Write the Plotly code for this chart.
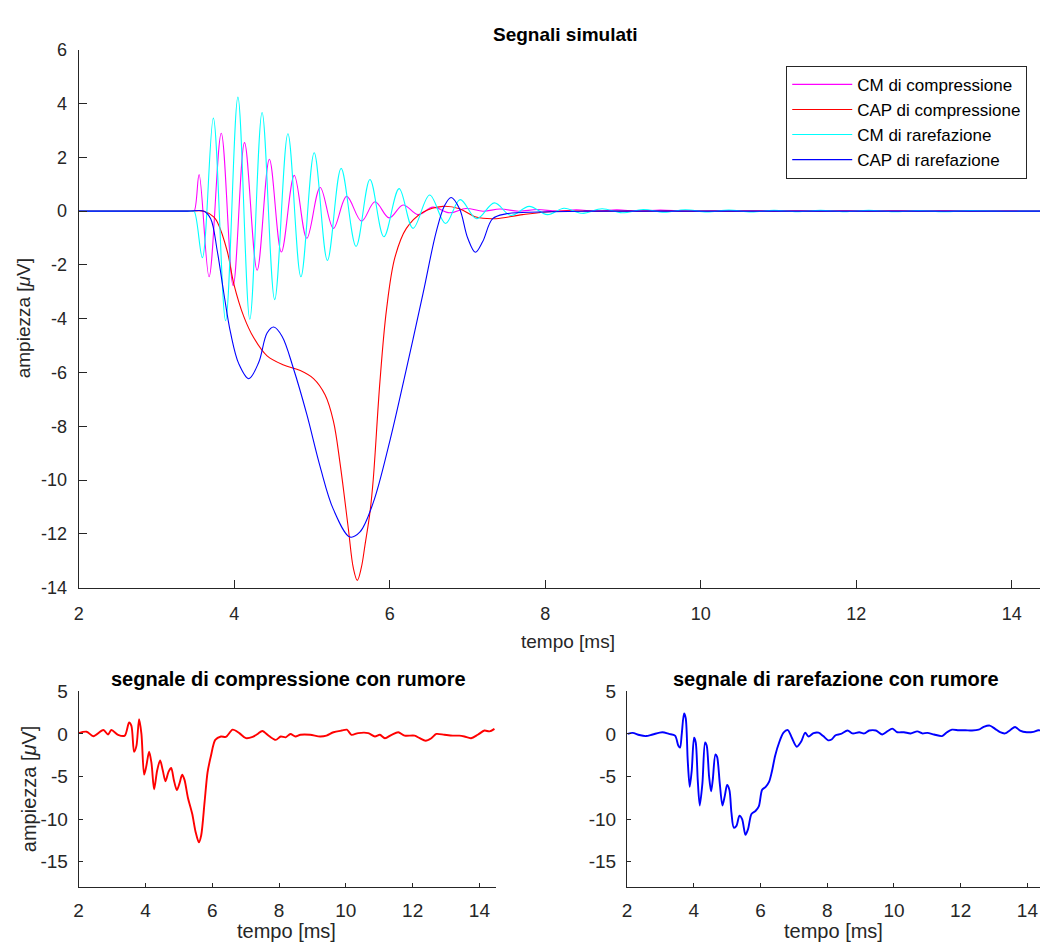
import plotly.graph_objects as go

# ---------------- data ----------------
# Main panel: simulated signals
cm_comp_t = [2.0, 2.5, 3.0, 3.3, 3.45, 3.485, 3.549, 3.677, 3.834, 3.987, 4.133, 4.295, 4.453, 4.607,
             4.773, 4.934, 5.106, 5.276, 5.446, 5.638, 5.810, 5.993, 6.172, 6.364, 6.556, 6.770,
             6.98, 7.20, 7.42, 7.66, 7.90, 8.15, 8.40, 8.66, 8.92, 9.20, 9.48, 9.80, 10.2, 11.0,
             12.0, 13.0, 14.0, 14.5]
cm_comp_v = [0.0, 0.0, 0.0, 0.0, 0.0, 0.0, 1.36, -2.44, 2.90, -2.77, 2.55, -2.20, 1.93, -1.52,
             1.33, -1.01, 0.88, -0.64, 0.55, -0.37, 0.35, -0.25, 0.23, -0.13, 0.15, -0.06,
             0.10, 0.0, 0.08, 0.0, 0.06, 0.0, 0.05, 0.0, 0.05, 0.0, 0.04, 0.0, 0.0, 0.0,
             0.0, 0.0, 0.0, 0.0]

cap_comp_t = [2.0, 2.5, 3.0, 3.4, 3.612, 3.74, 3.783, 3.911, 3.996, 4.124, 4.252, 4.423, 4.636,
              4.850, 5.020, 5.170, 5.276, 5.362, 5.468, 5.532, 5.583, 5.634, 5.682, 5.746, 5.788,
              5.874, 5.958, 6.066, 6.214, 6.428, 6.684, 6.898, 7.110, 7.366, 7.708, 8.130, 8.6,
              9.2, 10.0, 11.0, 12.0, 13.0, 14.0, 14.5]
cap_comp_v = [0.0, 0.0, 0.0, 0.0, 0.0, -0.22, -0.40, -1.49, -2.71, -3.92, -4.71, -5.38, -5.72,
              -5.93, -6.23, -6.84, -7.81, -9.39, -11.81, -13.27, -13.73, -13.27, -12.42, -11.2, -9.99,
              -6.35, -3.68, -1.73, -0.64, -0.04, 0.18, 0.09, -0.22, -0.28, -0.13, 0.0, 0.0,
              0.0, 0.0, 0.0, 0.0, 0.0, 0.0, 0.0]

cm_rare_t = [2.0, 2.5, 3.0, 3.3, 3.45, 3.485, 3.591, 3.732, 3.890, 4.048, 4.201, 4.359, 4.521,
             4.691, 4.858, 5.029, 5.199, 5.375, 5.567, 5.746, 5.925, 6.121, 6.300, 6.514, 6.718,
             6.905, 7.119, 7.346, 7.558, 7.793, 8.028, 8.241, 8.48, 8.73, 8.99, 9.26, 9.53, 9.80,
             10.08, 10.36, 10.65, 10.94, 11.24, 11.54, 11.85, 12.16, 12.48, 12.80, 13.13, 13.46,
             13.80, 14.1, 14.5]
cm_rare_v = [0.0, 0.0, 0.0, 0.0, 0.0, 0.0, -1.73, 3.46, -4.07, 4.24, -4.02, 3.67, -3.29,
             2.88, -2.44, 2.17, -1.83, 1.59, -1.31, 1.18, -0.95, 0.84, -0.64, 0.60, -0.46,
             0.43, -0.28, 0.31, -0.16, 0.18, -0.13, 0.11, -0.08, 0.09, -0.06, 0.06, -0.04, 0.05,
             -0.03, 0.04, -0.03, 0.03, -0.02, 0.03, -0.02, 0.03, -0.02, 0.02, -0.02, 0.02,
             0.0, 0.0, 0.0]

cap_rare_t = [2.0, 2.5, 3.0, 3.4, 3.612, 3.698, 3.783, 3.868, 3.954, 4.060, 4.188, 4.316, 4.423,
              4.508, 4.615, 4.764, 4.934, 5.106, 5.276, 5.490, 5.618, 5.788, 6.002, 6.214, 6.428,
              6.598, 6.706, 6.790, 6.898, 7.004, 7.102, 7.196, 7.324, 7.494, 7.912, 8.5, 9.2,
              10.0, 11.0, 12.0, 13.0, 14.0, 14.5]
cap_rare_v = [0.0, 0.0, 0.0, 0.0, 0.0, -0.28, -1.49, -3.07, -4.53, -5.68, -6.23, -5.62, -4.53,
              -4.31, -4.65, -5.87, -7.56, -9.51, -11.09, -12.12, -11.93, -10.84, -8.54, -5.87, -3.07,
              -0.77, 0.21, 0.51, 0.09, -1.01, -1.53, -1.13, -0.28, -0.10, -0.03, 0.0, 0.0,
              0.0, 0.0, 0.0, 0.0, 0.0, 0.0]

# Bottom-left: compression signal with noise
noisy_comp_t = [2.00, 2.24, 2.44, 2.74, 2.88, 2.98, 3.18, 3.38, 3.51, 3.58, 3.66, 3.73, 3.81,
                3.88, 3.96, 4.02, 4.11, 4.18, 4.26, 4.35, 4.44, 4.52, 4.60, 4.69, 4.77, 4.85,
                4.94, 5.02, 5.10, 5.17, 5.27, 5.40, 5.50, 5.60, 5.67, 5.77, 5.86, 5.96, 6.09,
                6.26, 6.41, 6.61, 6.81, 7.01, 7.21, 7.36, 7.50, 7.70, 7.90, 8.05, 8.20, 8.34,
                8.49, 8.64, 8.93, 9.23, 9.42, 9.63, 9.88, 10.03, 10.17, 10.37, 10.67, 10.87,
                11.02, 11.17, 11.37, 11.57, 11.76, 12.06, 12.21, 12.39, 12.56, 12.71, 12.95,
                13.20, 13.40, 13.55, 13.75, 13.95, 14.15, 14.30, 14.45]
noisy_comp_v = [0.1, 0.26, -0.27, 0.46, -0.07, 0.46, -0.1, -0.2, 1.34, 0.95, -2.1, -1.4, 1.72,
                0.0, -4.78, -3.9, -2.1, -3.4, -6.5, -4.3, -3.1, -4.3, -5.55, -4.45, -4.0, -5.4,
                -6.6, -5.8, -4.8, -5.4, -7.46, -9.38, -11.48, -12.74, -11.9, -8.04, -4.5, -2.6,
                -0.7, -0.3, -0.35, 0.5, 0.1, -0.5, -0.35, 0.0, 0.35, -0.25, -0.7, -0.3, -0.4,
                0.0, -0.3, -0.1, -0.1, -0.3, -0.2, 0.2, 0.4, 0.5, -0.1, 0.1, 0.1, -0.3,
                -0.1, -0.5, -0.1, 0.2, -0.2, -0.2, -0.5, -0.8, -0.5, 0.0, -0.1,
                -0.2, -0.2, -0.3, -0.5, -0.1, 0.4, 0.3, 0.6]

# Bottom-right: rarefaction signal with noise
noisy_rare_t = [2.02, 2.17, 2.37, 2.57, 2.77, 3.06, 3.26, 3.44, 3.54, 3.59, 3.64, 3.71, 3.76,
                3.82, 3.88, 3.94, 4.01, 4.06, 4.12, 4.18, 4.26, 4.34, 4.39, 4.46, 4.52, 4.57,
                4.65, 4.70, 4.78, 4.86, 4.93, 5.00, 5.07, 5.13, 5.20, 5.28, 5.37, 5.45, 5.55,
                5.63, 5.73, 5.85, 5.95, 6.05, 6.15, 6.26, 6.34, 6.44, 6.56, 6.69, 6.82, 6.94,
                7.09, 7.22, 7.34, 7.44, 7.59, 7.74, 7.88, 8.03, 8.13, 8.25, 8.41, 8.61, 8.76,
                8.96, 9.11, 9.26, 9.46, 9.65, 9.80, 9.95, 10.10, 10.30, 10.50, 10.70, 10.85,
                11.00, 11.20, 11.44, 11.59, 11.74, 11.94, 12.14, 12.34, 12.54, 12.69, 12.87,
                13.03, 13.18, 13.33, 13.48, 13.63, 13.78, 13.98, 14.18, 14.33, 14.5]
noisy_rare_v = [0.0, 0.13, -0.13, -0.25, -0.06, 0.2, 0.0, -0.2, -1.4, -1.6, -0.05, 2.4, 1.85,
                -3.1, -6.2, -4.3, -0.45, -1.0, -5.4, -8.4, -5.8, -1.0, -1.4, -5.0, -6.75, -5.4,
                -2.4, -2.7, -5.8, -8.4, -7.3, -6.0, -6.6, -9.25, -11.0, -10.8, -9.6, -10.0, -11.85,
                -11.15, -9.4, -9.05, -8.5, -6.55, -6.25, -5.6, -4.45, -2.55, -1.0, 0.15, 0.45, -0.45,
                -1.5, -0.9, 0.15, -0.3, 0.1, 0.15, -0.25, -0.75, -0.65, -0.15, 0.0, 0.4, 0.06,
                0.2, 0.06, 0.4, 0.4, -0.06, 0.3, 0.63, 0.2, 0.2, 0.06, 0.3, 0.06,
                0.13, -0.06, -0.25, 0.2, 0.5, 0.44, 0.44, 0.4, 0.5, 0.82, 0.98,
                0.6, 0.2, 0.06, 0.44, 0.82, 0.4, 0.2, 0.25, 0.44, 0.3]

legend_names = ["CM di compressione", "CAP di compressione", "CM di rarefazione", "CAP di rarefazione"]
main_xticks = [2, 4, 6, 8, 10, 12, 14]
main_yticks = [-14, -12, -10, -8, -6, -4, -2, 0, 2, 4, 6]
small_yticks = [-15, -10, -5, 0, 5]

# ---------------- figure ----------------
W, H = 1040, 952
FONT = "Liberation Sans, Arial, Helvetica, sans-serif"
AX = "#262626"

fig = go.Figure()
main_series = [(cm_comp_t, cm_comp_v, "#FF00FF"), (cap_comp_t, cap_comp_v, "#FF0000"),
               (cm_rare_t, cm_rare_v, "#00FFFF"), (cap_rare_t, cap_rare_v, "#0000FF")]
for (t, v, c), name in zip(main_series, legend_names):
    fig.add_trace(go.Scatter(x=t, y=v, mode="lines", name=name,
                             line=dict(color=c, width=1.1, shape="spline", smoothing=1.0),
                             xaxis="x", yaxis="y"))

fig.add_trace(go.Scatter(x=noisy_comp_t, y=noisy_comp_v, mode="lines", showlegend=False,
                         line=dict(color="#FF0000", width=1.9, shape="spline", smoothing=0.8),
                         xaxis="x2", yaxis="y2"))
fig.add_trace(go.Scatter(x=noisy_rare_t, y=noisy_rare_v, mode="lines", showlegend=False,
                         line=dict(color="#0000FF", width=1.9, shape="spline", smoothing=0.8),
                         xaxis="x3", yaxis="y3"))


def xax(domain, rng, anchor, ticklen, size, standoff):
    return dict(domain=domain, range=rng, anchor=anchor, showline=True, linecolor=AX, linewidth=1,
                ticks="inside", ticklen=ticklen, tickcolor=AX, tickwidth=1,
                tickvals=main_xticks, ticktext=[str(v) for v in main_xticks],
                tickfont=dict(size=size, color=AX, family=FONT), showgrid=False, zeroline=False,
                ticklabelstandoff=standoff)


def yax(domain, rng, anchor, ticks, ticklen, size, standoff):
    return dict(domain=domain, range=rng, anchor=anchor, showline=True, linecolor=AX, linewidth=1,
                ticks="inside", ticklen=ticklen, tickcolor=AX, tickwidth=1,
                tickvals=ticks, ticktext=[str(v) for v in ticks],
                tickfont=dict(size=size, color=AX, family=FONT), showgrid=False, zeroline=False,
                ticklabelstandoff=standoff)


fig.update_layout(
    width=W, height=H, autosize=False,
    margin=dict(l=0, r=0, t=0, b=0),
    paper_bgcolor="white", plot_bgcolor="white",
    font=dict(family=FONT, color=AX),
    xaxis=xax([74 / W, 1.0], [2, 14.362], "y", 8, 18, 10),
    yaxis=yax([1 - 590 / H, 1 - 40.7 / H], [-14, 6], "x", main_yticks, 8, 18, 7),
    xaxis2=xax([74 / W, 493.5 / W], [2, 14.5], "y2", 4, 19, 6),
    yaxis2=yax([1 - 896 / H, 1 - 696 / H], [-18, 5], "x2", small_yticks, 4, 19, 6),
    xaxis3=xax([625 / W, 1.0], [2, 14.377], "y3", 4, 19, 6),
    yaxis3=yax([1 - 896 / H, 1 - 696 / H], [-18, 5], "x3", small_yticks, 4, 19, 6),
    legend=dict(x=785 / W, y=1 - 57 / H, xanchor="left", yanchor="top",
                bgcolor="white", bordercolor=AX, borderwidth=1,
                font=dict(size=17, color="black", family=FONT), itemwidth=60,
                tracegroupgap=0),
    showlegend=True,
)

ann = [
    dict(text="<b>Segnali simulati</b>", x=563, y=25, size=19, angle=0),
    dict(text="tempo [ms]", x=566, y=645, size=19, angle=0),
    dict(text="ampiezza [<i>\u03bc</i>V]", x=18, y=315, size=19, angle=-90),
    dict(text="<b>segnale di compressione con rumore</b>", x=285, y=683, size=20, angle=0),
    dict(text="tempo [ms]", x=283, y=941, size=20, angle=0),
    dict(text="ampiezza [<i>\u03bc</i>V]", x=24, y=795, size=20, angle=-90),
    dict(text="<b>segnale di rarefazione con rumore</b>", x=835, y=683, size=20, angle=0),
    dict(text="tempo [ms]", x=833, y=941, size=20, angle=0),
]
for a in ann:
    fig.add_annotation(text=a["text"], x=a["x"] / W, y=1 - a["y"] / H, xref="paper", yref="paper",
                       xanchor="center", yanchor="middle", showarrow=False, textangle=a["angle"],
                       font=dict(size=a["size"], color="black" if "<b>" in a["text"] else AX,
                                 family=FONT))

fig.write_html("out.html")
